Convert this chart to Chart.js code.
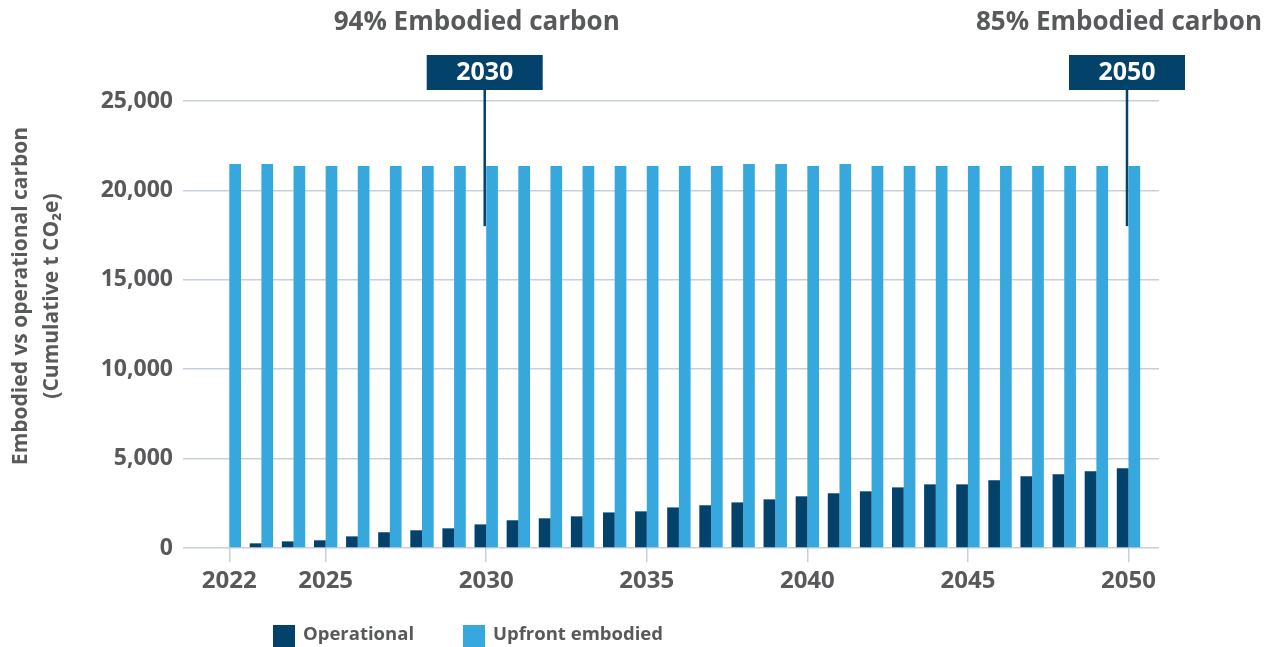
<!DOCTYPE html>
<html>
<head>
<meta charset="utf-8">
<title>Embodied vs operational carbon</title>
<script src="https://cdn.jsdelivr.net/npm/chart.js@4/dist/chart.umd.min.js"></script>
<style>
  html, body { margin: 0; padding: 0; background: #ffffff; }
  #wrap { position: relative; width: 1275px; height: 647px; }
  canvas { display: block; }
</style>
</head>
<body>
<div id="wrap"><canvas id="chart" width="1275" height="647"></canvas></div>
<script>
// Years on the x axis
const years = [2022, 2023, 2024, 2025, 2026, 2027, 2028, 2029, 2030, 2031, 2032, 2033, 2034, 2035,
  2036, 2037, 2038, 2039, 2040, 2041, 2042, 2043, 2044, 2045, 2046, 2047, 2048, 2049, 2050];

// Cumulative operational carbon (t CO2e)
const operational = [0, 260, 370, 430, 650, 880, 990, 1100, 1320, 1550, 1660, 1770, 1990, 2050,
  2270, 2390, 2550, 2720, 2890, 3060, 3170, 3390, 3560, 3560, 3790, 4010, 4120, 4290, 4460];

// Upfront embodied carbon (t CO2e)
const embodied = [21480, 21480, 21370, 21370, 21370, 21370, 21370, 21370, 21370, 21370, 21370, 21370, 21370, 21370,
  21370, 21370, 21480, 21480, 21370, 21480, 21370, 21370, 21370, 21370, 21370, 21370, 21370, 21370, 21370];

// Labelled years on the x axis
const xTickYears = [2022, 2025, 2030, 2035, 2040, 2045, 2050];

// Value axis ticks
const yTicks = [0, 5000, 10000, 15000, 20000, 25000];

// Highlighted milestones
const milestones = [
  { year: 2030, share: '94% Embodied carbon' },
  { year: 2050, share: '85% Embodied carbon' }
];

const seriesNames = ['Operational', 'Upfront embodied'];

const NAVY = '#02426b';
const BLUE = '#36a8de';
const TEXT = '#58595b';
const GRID = '#c7cfdd';
const FONT = "'Open Sans', 'Noto Sans', sans-serif";

Chart.defaults.font.family = FONT;
Chart.defaults.color = TEXT;

// Milestone boxes, headline shares, y-axis title and legend
const overlay = {
  id: 'overlay',
  afterDraw(chart) {
    const { ctx } = chart;
    const xs = chart.scales.x, ys = chart.scales.y;
    ctx.save();

    milestones.forEach(m => {
      const px = xs.getPixelForValue(m.year) - 1.5;
      // connector line
      ctx.strokeStyle = NAVY;
      ctx.lineWidth = 2.5;
      ctx.beginPath();
      ctx.moveTo(px, 88);
      ctx.lineTo(px, ys.getPixelForValue(18000));
      ctx.stroke();
      // year box
      ctx.fillStyle = NAVY;
      ctx.fillRect(px - 58, 55, 116, 35);
      ctx.fillStyle = '#ffffff';
      ctx.font = `700 25px ${FONT}`;
      ctx.textAlign = 'center';
      ctx.textBaseline = 'middle';
      ctx.fillText(String(m.year), px, 73);
      // share headline
      ctx.fillStyle = TEXT;
      ctx.font = `700 26px ${FONT}`;
      ctx.fillText(m.share, px - 8, 23);
    });

    // y-axis title (two lines, rotated)
    ctx.save();
    ctx.translate(36, 296);
    ctx.rotate(-Math.PI / 2);
    ctx.fillStyle = TEXT;
    ctx.font = `700 21px ${FONT}`;
    ctx.textAlign = 'center';
    ctx.textBaseline = 'middle';
    ctx.fillText('Embodied vs operational carbon', 0, -15);
    ctx.fillText('(Cumulative t CO\u2082e)', 0, 16);
    ctx.restore();

    // legend
    const items = chart.data.datasets.map(d => ({ label: d.label, color: d.backgroundColor }));
    const slots = [273, 463];
    ctx.font = `700 18.5px ${FONT}`;
    ctx.textAlign = 'left';
    ctx.textBaseline = 'middle';
    items.forEach((it, i) => {
      const x = slots[i];
      ctx.fillStyle = it.color;
      ctx.fillRect(x, 625, 22, 22);
      ctx.fillStyle = TEXT;
      ctx.fillText(it.label, x + 30, 635);
    });
    ctx.restore();
  }
};

new Chart(document.getElementById('chart'), {
  type: 'bar',
  data: {
    datasets: [
      {
        label: seriesNames[0],
        data: years.map((y, i) => ({ x: y, y: operational[i] })),
        backgroundColor: NAVY
      },
      {
        label: seriesNames[1],
        data: years.map((y, i) => ({ x: y, y: embodied[i] })),
        backgroundColor: BLUE
      }
    ]
  },
  options: {
    responsive: false,
    animation: false,
    devicePixelRatio: 1,
    layout: { padding: { top: 101, right: 116, left: 0, bottom: 0 } },
    datasets: {
      bar: { categoryPercentage: 0.728, barPercentage: 1.0, borderWidth: 0 }
    },
    plugins: {
      legend: { display: false },
      tooltip: { enabled: false }
    },
    scales: {
      x: {
        type: 'linear',
        offset: false,
        min: 2020.558,
        max: 2050.95,
        afterBuildTicks(scale) {
          scale.ticks = xTickYears.map(v => ({ value: v }));
        },
        afterFit(scale) { scale.height = 99; },
        border: { display: false },
        grid: {
          offset: false,
          drawOnChartArea: false,
          drawTicks: true,
          tickLength: 14,
          tickColor: GRID,
          lineWidth: 1.5
        },
        ticks: {
          autoSkip: false,
          maxRotation: 0,
          padding: 5,
          color: TEXT,
          font: { size: 24, weight: '700' },
          callback: v => String(v)
        }
      },
      y: {
        min: 0,
        max: 25000,
        afterBuildTicks(scale) {
          scale.ticks = yTicks.map(v => ({ value: v }));
        },
        afterFit(scale) { scale.width = 183; },
        border: { display: false },
        grid: {
          color: GRID,
          lineWidth: 1.5,
          drawTicks: false
        },
        ticks: {
          padding: 10,
          color: TEXT,
          font: { size: 23, weight: '700' },
          callback: v => v.toLocaleString('en-US')
        }
      }
    }
  },
  plugins: [overlay]
});
</script>
</body>
</html>
